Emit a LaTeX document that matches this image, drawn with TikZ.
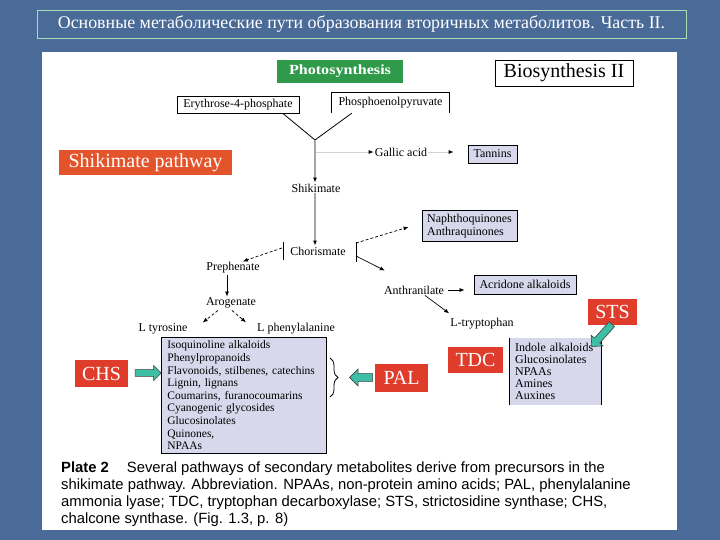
\documentclass[tikz,border=0pt]{standalone}
\usepackage{fontspec}
\setmainfont{Liberation Serif}
\setsansfont{Liberation Sans}
\usetikzlibrary{arrows.meta,shapes.arrows,decorations.pathreplacing,calc}
\definecolor{slideblue}{HTML}{4A6B97}
\definecolor{titleframe}{HTML}{A6DDB4}
\definecolor{photogreen}{HTML}{2E9A4A}
\definecolor{shikorange}{HTML}{E4542A}
\definecolor{enzred}{HTML}{E03C2C}
\definecolor{lav}{HTML}{D8D8EC}
\definecolor{tealarr}{HTML}{3DBFA5}
\begin{document}
\begin{tikzpicture}[x=1pt,y=-1pt,
  lbl/.style={font=\fontsize{12}{13}\selectfont, inner sep=1pt},
  enzbox/.style={fill=enzred, text=white, font=\fontsize{20}{22}\selectfont, inner sep=0pt},
  lavbox/.style={fill=lav, draw=black, line width=0.8pt, inner sep=0pt, font=\fontsize{12}{13}\selectfont},
  plainbox/.style={fill=white, draw=black, line width=0.8pt, inner sep=0pt, font=\fontsize{12}{13}\selectfont},
  grayline/.style={draw=gray!70, line width=1.6pt, -{Latex[length=5pt,width=4pt,color=black]}},
  blackline/.style={draw=black, line width=0.8pt},
  solidarr/.style={draw=black, line width=0.7pt, -{Latex[length=5pt,width=4pt]}},
  dasharr/.style={draw=black, line width=0.7pt, dash pattern=on 3pt off 2pt, -{Latex[length=5pt,width=4pt]}},
  tealarrow/.style={single arrow, draw=black!75, fill=tealarr, line width=0.6pt,
    inner sep=3pt, single arrow head extend=4pt, single arrow tip angle=90, anchor=center}
]
\useasboundingbox (0,0) rectangle (720,540);
\fill[slideblue] (0,0) rectangle (720,540);
\fill[white] (42,52) rectangle (677,530);

% title
\node[draw=titleframe, line width=0.8pt, minimum width=649pt, minimum height=28pt, inner sep=0pt,
  text=white, font=\fontsize{17.9}{19}\selectfont] (title) at (361.5,24)
  {Основные метаболические пути образования вторичных метаболитов. Часть II.};

% top boxes
\node[fill=photogreen, text=white, font=\bfseries\fontsize{14}{16}\selectfont, minimum width=126pt, minimum height=23pt, inner sep=0pt]
  (photo) at (340,71.5) {\scalebox{1.15}[1]{Photosynthesis}};
\node[plainbox, font=\fontsize{20}{22}\selectfont, minimum width=138pt, minimum height=26pt] (bio) at (564,73) {Biosynthesis II};
\node[plainbox, minimum width=122pt, minimum height=17pt] (ery) at (238,105) {Erythrose-4-phosphate};
\node[inner sep=0pt, font=\fontsize{12}{13}\selectfont, minimum width=117pt, minimum height=20pt] (phos) at (390.5,103) {Phosphoenolpyruvate};
\draw[blackline] (phos.south west) -- (phos.north west) -- (phos.north east) -- (phos.south east);

\node[fill=shikorange, text=white, font=\fontsize{20}{22}\selectfont, minimum width=173pt, minimum height=25pt, inner sep=0pt]
  (shpath) at (145.5,162.5) {Shikimate pathway};

\coordinate (jn) at (315,140);
\draw[blackline] ($(ery.south west)!0.87!(ery.south east)$) -- (jn);
\draw[blackline] ($(phos.south west)!0.17!(phos.south east)$) -- (jn);

\node[lbl] (gal) at (401,152) {Gallic acid};
\node[lavbox, minimum width=49pt, minimum height=18pt] (tan) at (492.5,154) {Tannins};
\coordinate (gb) at (315,152);
\draw[grayline, draw=gray!35, line width=0.8pt] (gb) -- (gal.west);
\draw[grayline, draw=gray!35, line width=0.8pt, shorten >=14pt] (gal.east) -- (tan.west |- gal.east);

\node[lbl] (shk) at (316,188) {Shikimate};
\draw[grayline] (jn) -- (jn |- shk.north);
\node[lbl] (cho) at (318,251) {Chorismate};
\draw[grayline] (jn |- shk.south) -- (jn |- cho.north);

\coordinate (bl) at (283,251);
\coordinate (br) at (356,252);
\draw[blackline] ($(bl)+(0,-9)$) -- ($(bl)+(0,9)$);
\draw[blackline] ($(br)+(0,-10)$) -- ($(br)+(0,10)$);

\node[lbl] (pre) at (233,268) {Prephenate};
\node[lbl] (aro) at (231,303) {Arogenate};
\node[lbl] (tyr) at (163,329) {L tyrosine};
\node[lbl] (phe) at (296,329) {L phenylalanine};
\draw[dasharr] ($(bl)+(-1,-3)$) -- ($(pre.north east)+(-18,0)$);
\draw[solidarr] ($(pre.south)+(-6,0)$) -- ($(aro.north)+(-4,0)$);
\draw[dasharr] ($(aro.south)+(-13,1)$) -- ($(tyr.north east)+(14,0)$);
\draw[dasharr] ($(aro.south)+(1,1)$) -- ($(phe.north west)+(-10,0)$);

\node[lavbox, minimum width=95pt, minimum height=31pt, align=left] (naph) at (469.5,226) {Naphthoquinones\\Anthraquinones};
\node[lbl] (ant) at (414,290) {Anthranilate};
\node[lavbox, minimum width=102pt, minimum height=19pt] (acr) at (525,284.5) {Acridone alkaloids};
\node[lbl] (trp) at (482,324) {L-tryptophan};
\draw[dasharr] ($(br)+(0,-9)$) -- ($(naph.west)+(-13,1)$);
\draw[solidarr] ($(br)+(0,4)$) -- ($(ant.north west)+(2,-14)$);
\draw[solidarr, shorten <=3pt, shorten >=9pt] (ant.east) -- (acr.west |- ant.east);
\draw[solidarr] ($(ant.south)+(11,0)$) -- ($(trp.north west)+(0,-4)$);

% enzymes
\node[enzbox, minimum width=49pt, minimum height=26pt] (sts) at (612.5,312) {STS};
\node[enzbox, minimum width=55pt, minimum height=26pt] (tdc) at (475.5,360) {TDC};
\node[enzbox, minimum width=53pt, minimum height=28pt] (pal) at (401.5,378) {PAL};
\node[enzbox, minimum width=53pt, minimum height=27pt] (chs) at (101.5,373.5) {CHS};

% lists
\node[lavbox, anchor=north west, text width=153pt, minimum height=116pt, inner xsep=6pt, inner ysep=2pt, align=left,
  font=\fontsize{11.5}{12.6}\selectfont] (main) at (161,337)
  {Isoquinoline alkaloids\\Phenylpropanoids\\Flavonoids, stilbenes, catechins\\Lignin, lignans\\Coumarins, furanocoumarins\\Cyanogenic glycosides\\Glucosinolates\\Quinones,\\NPAAs};
\node[fill=lav, anchor=north west, text width=80pt, minimum height=67pt, inner xsep=6pt, inner ysep=0pt, align=left,
  font=\fontsize{12}{12}\selectfont] (ind) at (509,338)
  {Indole alkaloids\\Glucosinolates\\NPAAs\\Amines\\Auxines};
\draw[blackline] (ind.north west) -- (ind.south west);
\draw[blackline] (ind.north east) -- (ind.south east);

% brace
\draw[blackline, decorate, decoration={brace, amplitude=8pt}] (330,358) -- (330,397);
\coordinate (bracetip) at (345,377.5);

% teal arrows
\node[tealarrow, minimum height=26pt, minimum width=15pt] (chsarr) at (146.5,373) {};
\node[tealarrow, minimum height=23pt, minimum width=17pt, rotate=180] (palarr) at (363,377.5) {};
\node[tealarrow, minimum height=30pt, minimum width=16pt, rotate=228] (stsarr) at (603,334) {};

% caption
\node[anchor=north west, align=left, inner sep=0pt, font=\sffamily\fontsize{14.8}{16.7}\selectfont] (cap) at (61,462)
  {\textbf{Plate 2}\hspace{18pt}Several pathways of secondary metabolites derive from precursors in the\\
   shikimate pathway. Abbreviation. NPAAs, non-protein amino acids; PAL, phenylalanine\\
   ammonia lyase; TDC, tryptophan decarboxylase; STS, strictosidine synthase; CHS,\\
   chalcone synthase. (Fig. 1.3, p. 8)};
\end{tikzpicture}
\end{document}
